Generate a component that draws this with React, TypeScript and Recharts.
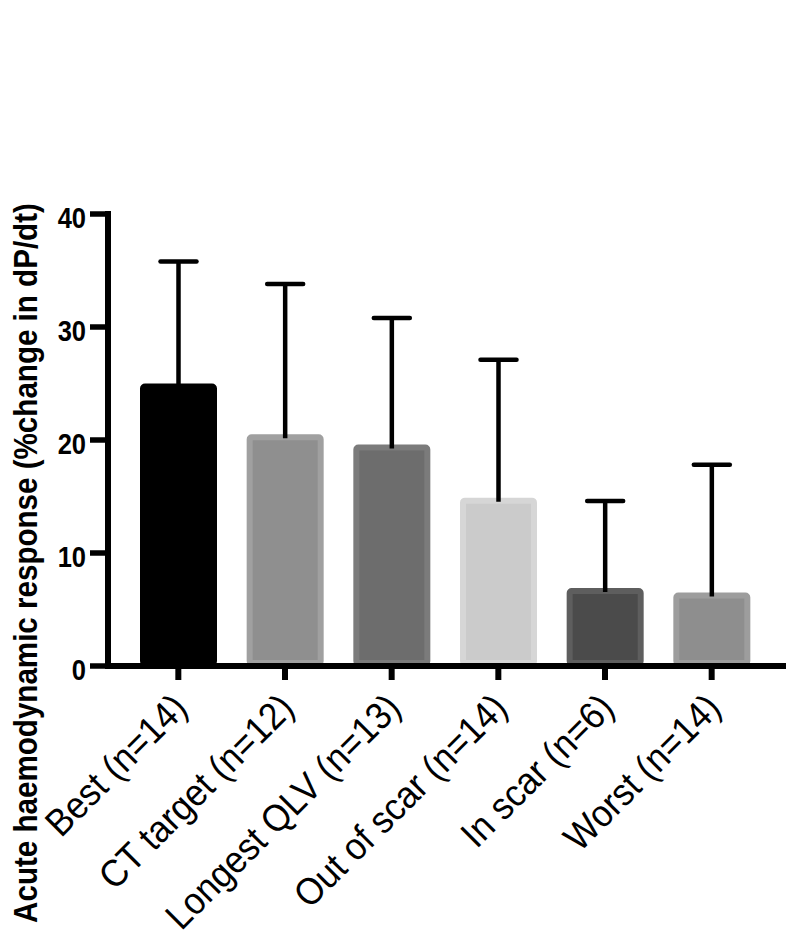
import React from 'react'
import { BarChart, Bar, XAxis, YAxis } from 'recharts'

const categories = [
  'Best (n=14)',
  'CT target (n=12)',
  'Longest QLV (n=13)',
  'Out of scar (n=14)',
  'In scar (n=6)',
  'Worst (n=14)',
]
const means = [25.0, 20.5, 19.6, 14.9, 6.9, 6.5]
const sds = [10.8, 13.3, 11.2, 12.2, 7.7, 11.3]
const fills = ['#000000', '#8f8f8f', '#6d6d6d', '#cbcbcb', '#4b4b4b', '#8e8e8e']
const borders = ['#000000', '#a0a0a0', '#7b7b7b', '#d6d6d6', '#5e5e5e', '#9d9d9d']
const yTicks = [0, 10, 20, 30, 40]

const data = categories.map((name, i) => ({
  name,
  mean: means[i],
  sd: sds[i],
  fill: fills[i],
  border: borders[i],
}))

const FONT = '"Liberation Sans", Arial, sans-serif'

// bar with inset border + upward-only SD whisker
const BarWithError = (props: any) => {
  const { x, y, width, height, payload } = props
  if (!height) return null
  const k = height / payload.mean
  const top = y - payload.sd * k
  const cx = x + width / 2
  return (
    <g>
      <rect
        x={x + 3}
        y={y + 3}
        width={width - 6}
        height={height - 6}
        fill={payload.fill}
        stroke={payload.border}
        strokeWidth={6}
        rx={2}
      />
      <line x1={cx} x2={cx} y1={y + 4} y2={top} stroke="#000" strokeWidth={4.5} />
      <line
        x1={cx - 18}
        x2={cx + 18}
        y1={top}
        y2={top}
        stroke="#000"
        strokeWidth={4.5}
        strokeLinecap="round"
      />
    </g>
  )
}

// narrow-ish rotated category labels
const XTick = ({ x, y, payload }: any) => {
  const px = x + 11
  const py = y + 28
  return (
    <text
      transform={`translate(${px}, ${py}) rotate(-45) scale(0.92, 1)`}
      textAnchor="end"
      fontSize={38}
      fontFamily={FONT}
      fill="#000"
    >
      {payload.value}
    </text>
  )
}

const YTick = ({ x, y, payload }: any) => (
  <text
    transform={`translate(${x}, ${y + 3}) scale(0.85, 1)`}
    textAnchor="end"
    dy="0.355em"
    fontSize={30}
    fontWeight="bold"
    fontFamily={FONT}
    fill="#000"
  >
    {payload.value}
  </text>
)

const YTitle = () => (
  <text
    transform="translate(37, 563) rotate(-90) scale(0.87, 1)"
    textAnchor="middle"
    fontSize={34}
    fontWeight="bold"
    fontFamily={FONT}
    fill="#000"
  >
    Acute haemodynamic response (%change in dP/dt)
  </text>
)

export default function App() {
  return (
    <div style={{ position: 'absolute', left: 0, top: 0, background: '#fff' }}>
      <BarChart
        width={788}
        height={938}
        data={data}
        margin={{ top: 214, right: 5, bottom: 0, left: 0 }}
      >
        <XAxis
          dataKey="name"
          interval={0}
          height={272}
          padding={{ left: 17, right: 18 }}
          tickSize={14}
          tickLine={{ stroke: '#000', strokeWidth: 6 }}
          axisLine={{ stroke: '#000', strokeWidth: 6, strokeLinecap: 'square' }}
          tick={<XTick />}
        />
        <YAxis
          width={108}
          domain={[0, 40]}
          ticks={yTicks}
          tickSize={18}
          tickMargin={4}
          tickLine={{ stroke: '#000', strokeWidth: 5.5 }}
          axisLine={{ stroke: '#000', strokeWidth: 6, strokeLinecap: 'square' }}
          tick={<YTick />}
          label={{ content: () => <YTitle /> }}
        />
        <Bar dataKey="mean" barSize={77} shape={<BarWithError />} isAnimationActive={false} />
      </BarChart>
    </div>
  )
}
